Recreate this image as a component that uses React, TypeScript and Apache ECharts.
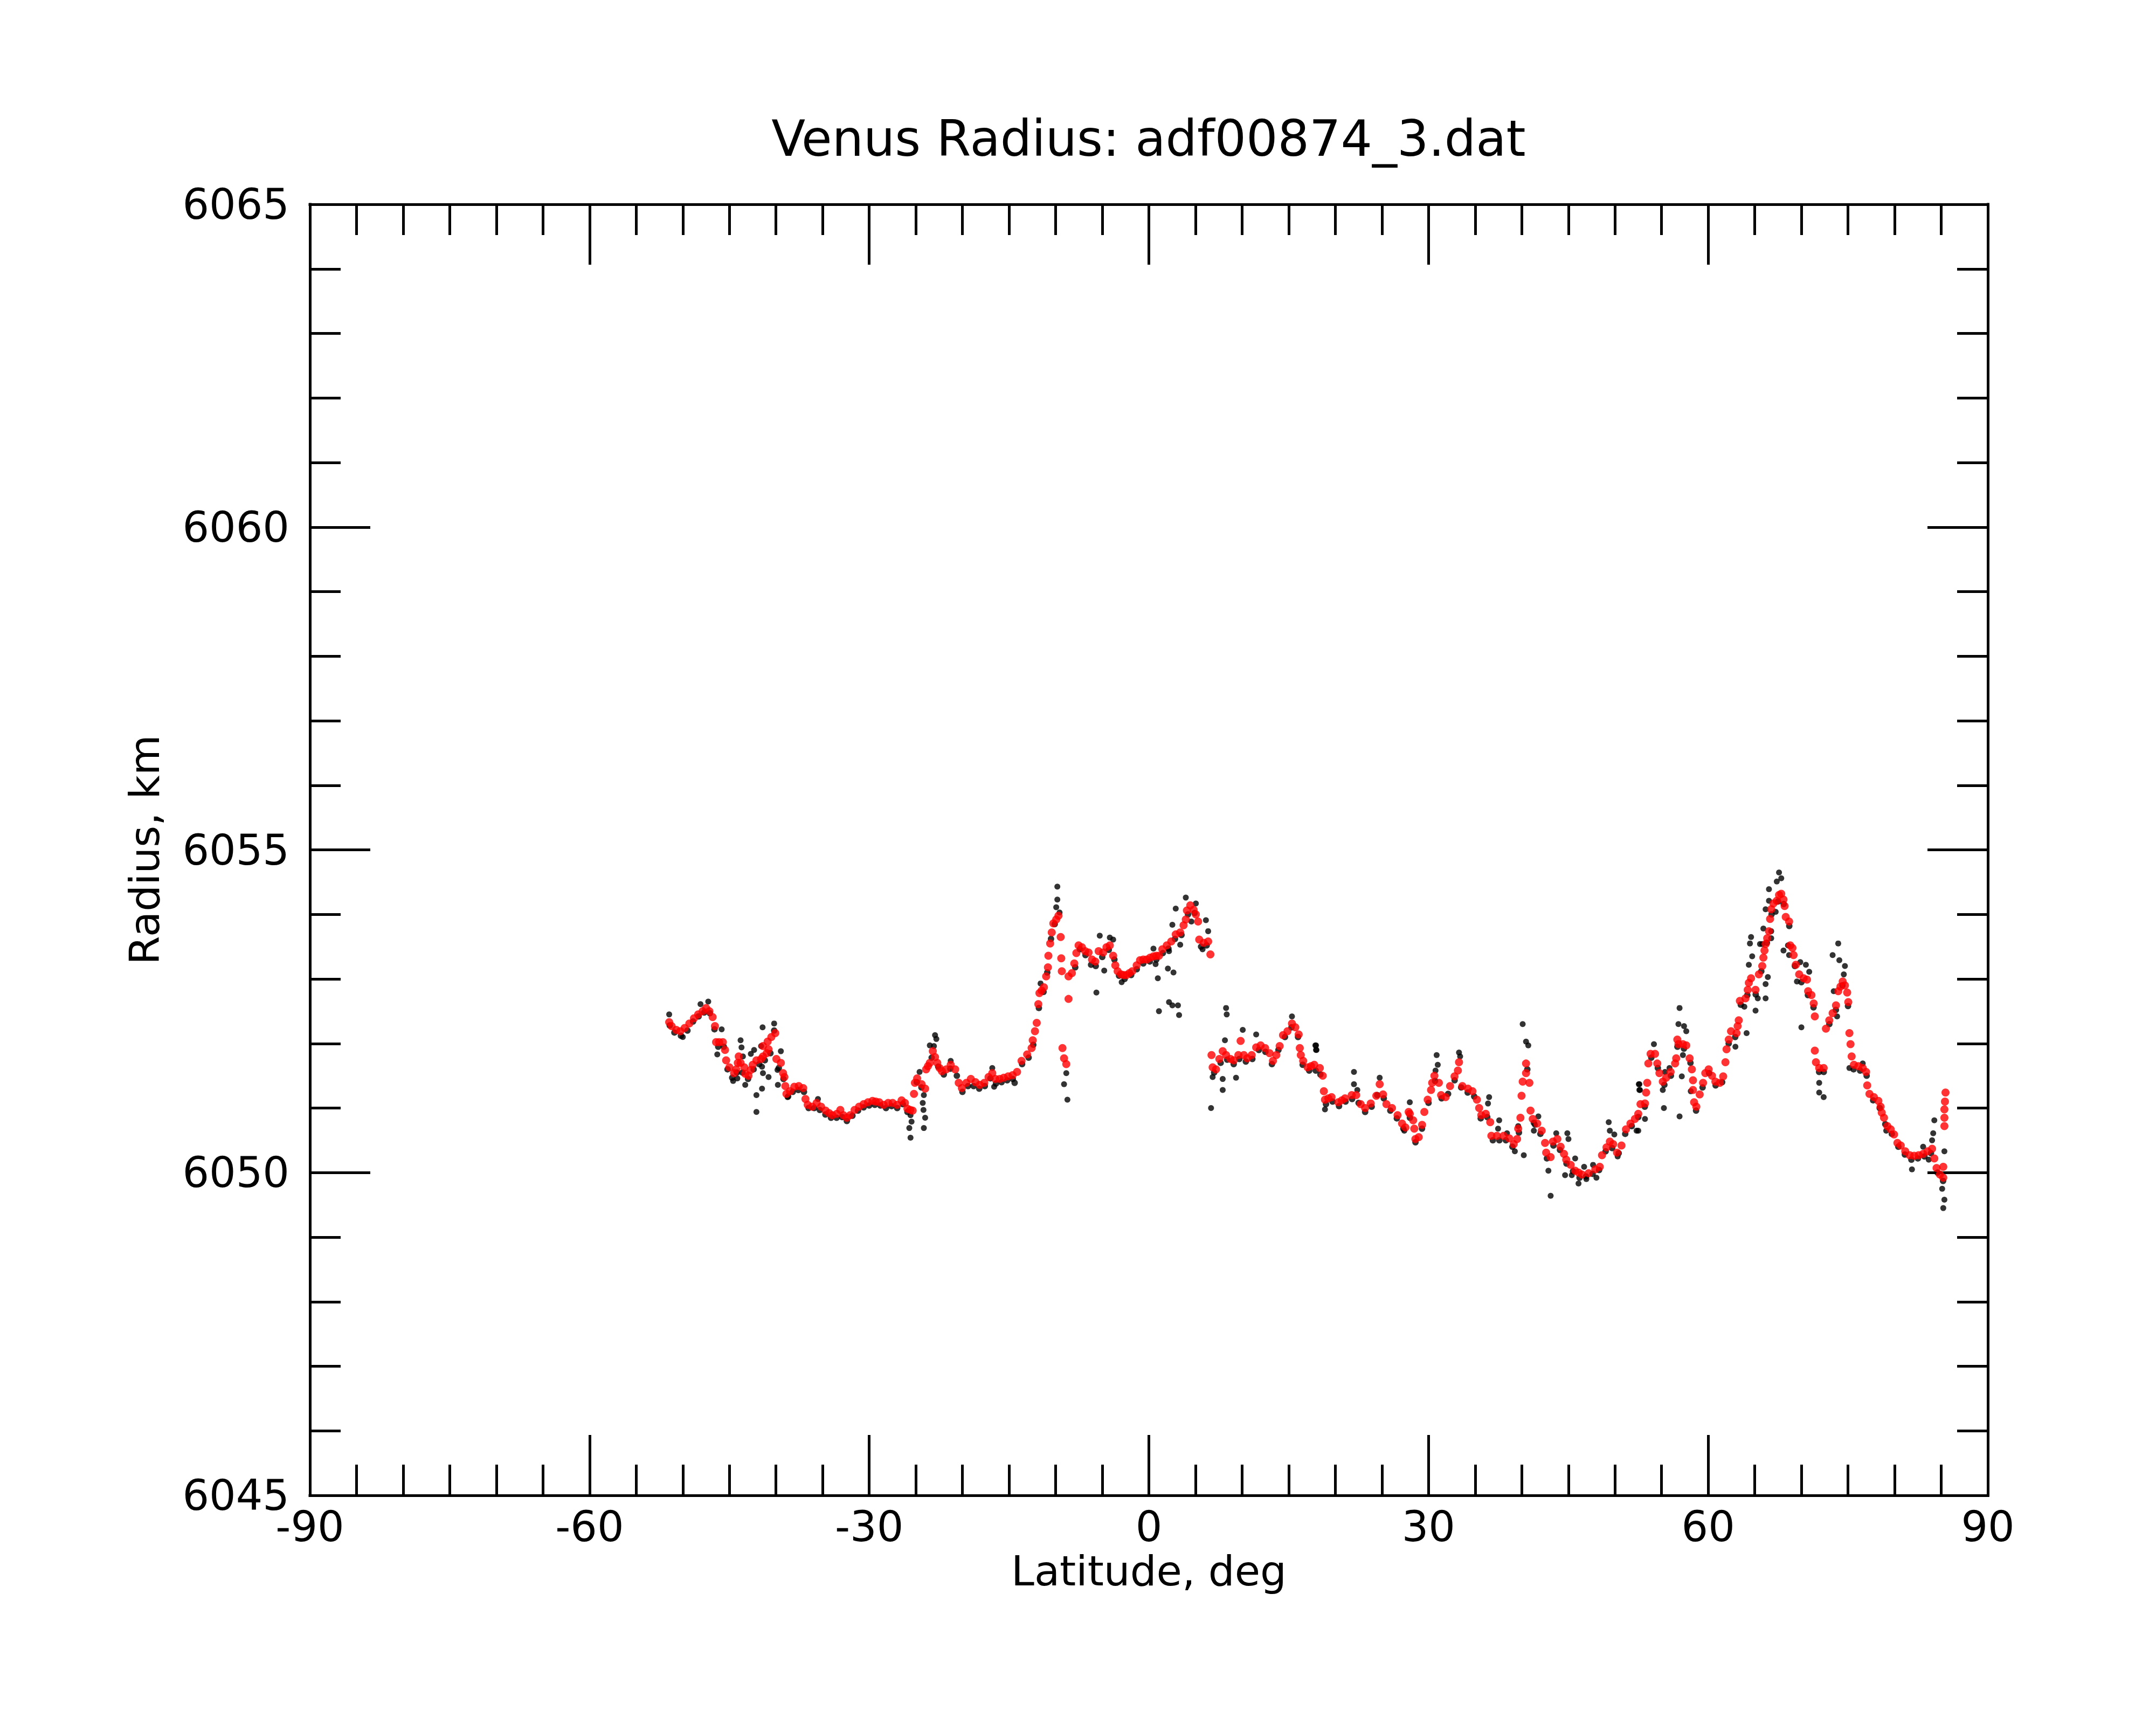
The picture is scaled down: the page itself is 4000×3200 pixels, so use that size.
import React, { useEffect, useRef } from "react";
import * as echarts from "echarts";

const TITLE = "Venus Radius: adf00874_3.dat";
const X_NAME = "Latitude, deg";
const Y_NAME = "Radius, km";
const X_MIN = -90;
const X_MAX = 90;
const X_STEP = 30;
const Y_MIN = 6045;
const Y_MAX = 6065;
const Y_STEP = 5;

// smoothed profile (red) [latitude, radius]
const smoothed: number[][] = [
  [-51.46, 6052.33], [-51.2, 6052.27], [-50.7, 6052.21], [-50.26, 6052.19], [-49.8, 6052.24], [-49.3, 6052.31],
  [-48.8, 6052.39], [-48.35, 6052.45], [-47.87, 6052.5], [-47.5, 6052.55], [-47.15, 6052.5], [-46.8, 6052.41],
  [-46.55, 6052.27], [-46.43, 6052.02], [-46.1, 6052.02], [-45.7, 6052.02], [-45.47, 6051.9], [-45.35, 6051.74],
  [-45.0, 6051.63], [-44.5, 6051.54], [-44.27, 6051.6], [-44.0, 6051.8], [-44.1, 6051.7], [-43.8, 6051.7],
  [-43.4, 6051.63], [-43.3, 6051.53], [-42.95, 6051.5], [-42.7, 6051.59], [-42.5, 6051.67], [-42.1, 6051.74],
  [-41.6, 6051.76], [-41.4, 6051.8], [-41.0, 6051.85], [-40.8, 6051.91], [-41.4, 6051.96], [-40.9, 6052.03],
  [-40.5, 6052.1], [-40.08, 6052.16], [-39.96, 6051.76], [-39.48, 6051.7], [-39.24, 6051.54], [-39.1, 6051.48],
  [-39.0, 6051.34], [-38.88, 6051.22], [-38.5, 6051.26], [-38.04, 6051.33], [-37.56, 6051.34], [-37.08, 6051.31],
  [-36.84, 6051.14], [-36.6, 6051.05], [-36.12, 6051.02], [-35.64, 6051.08], [-35.16, 6051.02], [-34.68, 6050.96],
  [-34.3, 6050.92], [-33.96, 6050.89], [-33.48, 6050.91], [-33.1, 6050.97], [-32.77, 6050.89], [-32.4, 6050.85],
  [-32.05, 6050.89], [-31.57, 6050.97], [-31.09, 6051.02], [-30.6, 6051.06], [-30.13, 6051.09], [-29.65, 6051.11],
  [-29.3, 6051.1], [-28.93, 6051.09], [-28.45, 6051.05], [-27.97, 6051.08], [-27.49, 6051.08], [-27.0, 6051.05],
  [-26.53, 6051.12], [-26.17, 6051.08], [-25.9, 6050.99], [-25.6, 6050.97], [-25.34, 6050.96], [-25.2, 6051.22],
  [-25.1, 6051.39], [-24.86, 6051.46], [-24.38, 6051.37], [-24.0, 6051.3], [-23.9, 6051.6], [-23.7, 6051.65],
  [-23.5, 6051.7], [-23.18, 6051.88], [-22.94, 6051.79], [-22.7, 6051.7], [-22.45, 6051.62], [-22.2, 6051.57],
  [-21.74, 6051.6], [-21.26, 6051.67], [-20.78, 6051.6], [-20.4, 6051.39], [-20.06, 6051.31], [-19.58, 6051.39],
  [-19.1, 6051.45], [-18.6, 6051.4], [-18.14, 6051.36], [-17.66, 6051.39], [-17.2, 6051.48], [-16.8, 6051.54],
  [-16.47, 6051.45], [-16.0, 6051.45], [-15.57, 6051.47], [-15.1, 6051.49], [-14.62, 6051.51], [-14.14, 6051.56],
  [-13.66, 6051.73], [-13.06, 6051.83], [-12.58, 6051.93], [-12.46, 6052.05], [-12.22, 6052.19], [-12.03, 6052.32],
  [-11.86, 6052.61], [-11.74, 6052.78], [-11.5, 6052.82], [-11.26, 6052.87], [-11.02, 6053.04], [-10.83, 6053.18],
  [-10.78, 6053.36], [-10.59, 6053.55], [-10.42, 6053.72], [-10.25, 6053.86], [-9.94, 6053.92], [-9.7, 6053.98],
  [-9.46, 6053.65], [-9.4, 6053.32], [-9.34, 6053.12], [-9.27, 6051.93], [-9.1, 6051.77], [-8.86, 6051.68],
  [-8.62, 6052.69], [-8.62, 6053.04], [-8.26, 6053.09], [-8.0, 6053.24], [-7.78, 6053.4], [-7.54, 6053.52],
  [-7.18, 6053.49], [-6.83, 6053.43], [-6.47, 6053.41], [-6.1, 6053.3], [-5.75, 6053.27], [-5.39, 6053.43],
  [-4.9, 6053.41], [-4.55, 6053.49], [-4.19, 6053.52], [-3.83, 6053.36], [-3.6, 6053.21], [-3.35, 6053.12],
  [-3.0, 6053.07], [-2.7, 6053.06], [-2.4, 6053.06], [-2.1, 6053.09], [-1.79, 6053.12], [-1.31, 6053.21],
  [-0.95, 6053.29], [-0.6, 6053.3], [-0.23, 6053.3], [0.13, 6053.33], [0.49, 6053.35], [0.8, 6053.36],
  [1.08, 6053.36], [1.44, 6053.46], [1.92, 6053.52], [2.4, 6053.58], [2.88, 6053.69], [3.36, 6053.72],
  [3.72, 6053.83], [3.96, 6053.92], [4.08, 6054.06], [4.44, 6054.14], [4.8, 6054.07], [5.04, 6054.0],
  [5.28, 6053.89], [5.4, 6053.61], [5.88, 6053.56], [6.36, 6053.58], [6.6, 6053.38], [6.72, 6051.82],
  [6.84, 6051.63], [7.2, 6051.6], [7.56, 6051.76], [7.92, 6051.88], [8.28, 6051.82], [8.76, 6051.76],
  [9.1, 6051.74], [9.6, 6051.82], [9.84, 6052.04], [10.19, 6051.82], [10.55, 6051.77], [11.03, 6051.82],
  [11.51, 6051.94], [11.99, 6051.97], [12.47, 6051.93], [12.95, 6051.85], [13.31, 6051.73], [13.67, 6051.82],
  [14.03, 6051.96], [14.39, 6052.13], [14.87, 6052.19], [15.35, 6052.31], [15.71, 6052.25], [16.07, 6052.14],
  [16.19, 6051.93], [16.3, 6051.82], [16.55, 6051.73], [17.03, 6051.63], [17.4, 6051.65], [17.74, 6051.67],
  [18.34, 6051.62], [18.65, 6051.5], [18.77, 6051.26], [18.89, 6051.13], [19.25, 6051.15], [19.6, 6051.17],
  [20.32, 6051.09], [20.7, 6051.12], [21.04, 6051.15], [21.76, 6051.2], [22.24, 6051.2], [22.72, 6051.06],
  [23.2, 6051.0], [23.8, 6051.07], [24.4, 6051.19], [24.76, 6051.37], [25.12, 6051.21], [25.48, 6051.06],
  [26.08, 6051.0], [26.68, 6050.89], [27.16, 6050.76], [27.52, 6050.7], [27.87, 6050.94], [27.99, 6050.91],
  [28.35, 6050.81], [28.47, 6050.68], [28.59, 6050.52], [28.95, 6050.55], [29.31, 6050.74], [29.55, 6050.94],
  [29.91, 6051.13], [30.27, 6051.28], [30.39, 6051.39], [30.63, 6051.5], [31.11, 6051.39], [31.35, 6051.2],
  [31.83, 6051.17], [32.31, 6051.34], [32.79, 6051.49], [33.15, 6051.58], [33.27, 6051.71], [33.63, 6051.34],
  [34.23, 6051.3], [34.71, 6051.26], [35.19, 6051.13], [35.43, 6051.0], [35.66, 6050.89], [36.14, 6050.91],
  [36.62, 6050.78], [36.74, 6050.57], [37.34, 6050.57], [38.06, 6050.57], [38.66, 6050.53], [39.14, 6050.44],
  [39.5, 6050.52], [39.62, 6050.68], [39.86, 6050.85], [39.98, 6051.19], [40.1, 6051.41], [40.46, 6051.54],
  [40.46, 6051.69], [40.82, 6051.39], [40.94, 6050.96], [41.18, 6050.83], [41.66, 6050.76], [42.14, 6050.65],
  [42.5, 6050.46], [42.62, 6050.31], [43.1, 6050.24], [43.34, 6050.48], [43.82, 6050.52], [44.17, 6050.4],
  [44.53, 6050.29], [44.77, 6050.2], [45.25, 6050.12], [45.73, 6050.03], [46.1, 6050.0], [46.45, 6049.97],
  [47.17, 6049.99], [47.89, 6050.05], [48.37, 6050.09], [48.61, 6050.27], [49.09, 6050.39], [49.45, 6050.48],
  [49.81, 6050.44], [50.22, 6050.31], [50.7, 6050.42], [51.18, 6050.67], [51.66, 6050.76], [52.14, 6050.83],
  [52.5, 6050.91], [52.74, 6051.06], [53.22, 6051.07], [53.34, 6051.24], [53.46, 6051.39], [53.58, 6051.69],
  [53.82, 6051.84], [54.3, 6051.84], [54.54, 6051.69], [54.77, 6051.54], [55.13, 6051.41], [55.49, 6051.47],
  [55.97, 6051.56], [56.45, 6051.69], [56.57, 6051.77], [56.69, 6052.06], [56.81, 6051.99], [57.29, 6051.99],
  [57.65, 6051.97], [58.01, 6051.77], [58.25, 6051.6], [58.37, 6051.43], [58.37, 6051.28], [58.49, 6051.09],
  [58.73, 6051.02], [59.09, 6051.21], [59.45, 6051.39], [59.69, 6051.54], [60.05, 6051.6], [60.41, 6051.5],
  [60.77, 6051.41], [61.25, 6051.39], [61.61, 6051.49], [61.85, 6051.71], [61.97, 6051.91], [62.21, 6052.06],
  [62.45, 6052.19], [63.04, 6052.16], [63.16, 6052.27], [63.28, 6052.36], [63.4, 6052.66], [64.0, 6052.7],
  [64.24, 6052.83], [64.36, 6052.94], [64.6, 6053.01], [65.08, 6052.83], [65.44, 6053.07], [65.8, 6053.2],
  [65.92, 6053.33], [66.04, 6053.44], [66.16, 6053.54], [66.33, 6053.63], [66.52, 6053.74], [66.64, 6053.93],
  [66.76, 6054.08], [67.0, 6054.17], [67.36, 6054.21], [67.6, 6054.3], [67.84, 6054.32], [68.08, 6054.23],
  [68.2, 6054.13], [68.32, 6053.96], [68.68, 6053.89], [68.8, 6053.52], [69.04, 6053.48], [69.16, 6053.37],
  [69.4, 6053.22], [69.76, 6053.07], [70.24, 6053.01], [70.6, 6052.99], [70.72, 6052.81], [71.08, 6052.75],
  [71.32, 6052.62], [71.44, 6052.42], [71.44, 6051.89], [71.56, 6051.71], [71.91, 6051.62], [72.39, 6051.62],
  [72.63, 6052.23], [72.99, 6052.36], [73.35, 6052.47], [73.71, 6052.59], [73.95, 6052.81], [74.19, 6052.88],
  [74.43, 6052.96], [74.67, 6052.9], [74.91, 6052.79], [75.03, 6052.64], [75.15, 6052.16], [75.27, 6051.99],
  [75.39, 6051.8], [75.63, 6051.67], [76.11, 6051.65], [76.58, 6051.62], [76.94, 6051.56], [77.06, 6051.35],
  [77.3, 6051.22], [77.78, 6051.17], [78.26, 6051.11], [78.5, 6051.02], [78.62, 6050.93], [78.86, 6050.85],
  [79.22, 6050.72], [79.58, 6050.67], [79.94, 6050.59], [80.3, 6050.46], [80.66, 6050.42], [81.14, 6050.33],
  [81.62, 6050.27], [82.1, 6050.26], [82.58, 6050.27], [83.06, 6050.29], [83.54, 6050.33], [84.02, 6050.37],
  [84.26, 6050.22], [84.5, 6050.07], [84.86, 6049.97], [85.22, 6049.92], [85.22, 6050.09], [85.34, 6050.72],
  [85.34, 6050.85], [85.34, 6050.98], [85.4, 6051.1], [85.46, 6051.24],
];

// raw measurements (black) along the profile [latitude, radius]
const rawTrack: number[][] = [
  [-51.4, 6052.28], [-50.9, 6052.17], [-50.2, 6052.12], [-49.5, 6052.2], [-48.9, 6052.34], [-48.3, 6052.42],
  [-47.7, 6052.48], [-47.1, 6052.47], [-46.6, 6052.22], [-46.2, 6051.95], [-45.6, 6051.95], [-45.2, 6051.6],
  [-44.7, 6051.47], [-44.2, 6051.55], [-43.6, 6051.55], [-43.0, 6051.45], [-42.4, 6051.6], [-41.8, 6051.68],
  [-41.2, 6051.74], [-40.6, 6051.85], [-40.2, 6052.2], [-39.7, 6051.62], [-39.2, 6051.45], [-38.7, 6051.18],
  [-38.2, 6051.25], [-37.6, 6051.28], [-37.0, 6051.25], [-36.5, 6051.0], [-35.9, 6051.0], [-35.3, 6050.97],
  [-34.7, 6050.9], [-34.1, 6050.85], [-33.5, 6050.85], [-32.9, 6050.86], [-32.4, 6050.8], [-31.8, 6050.88],
  [-31.2, 6050.96], [-30.6, 6051.01], [-30.0, 6051.04], [-29.4, 6051.05], [-28.8, 6051.04], [-28.2, 6051.0],
  [-27.6, 6051.03], [-27.0, 6051.0], [-26.4, 6051.06], [-25.9, 6050.94], [-24.9, 6051.4], [-24.4, 6051.32],
  [-23.3, 6051.78], [-22.6, 6051.64], [-22.0, 6051.52], [-21.3, 6051.61], [-20.6, 6051.5], [-20.0, 6051.25],
  [-19.4, 6051.34], [-18.8, 6051.34], [-18.2, 6051.3], [-17.6, 6051.34], [-17.0, 6051.46], [-16.4, 6051.38],
  [-15.8, 6051.4], [-15.2, 6051.43], [-14.6, 6051.45], [-14.4, 6051.39], [-13.6, 6051.68], [-12.9, 6051.78],
  [-12.4, 6051.98], [-11.8, 6052.55], [-11.3, 6052.8], [-10.9, 6053.1], [-10.5, 6053.62], [-10.1, 6053.85],
  [-7.9, 6053.18], [-7.4, 6053.46], [-6.8, 6053.37], [-6.2, 6053.22], [-5.7, 6053.2], [-5.0, 6053.34],
  [-4.3, 6053.45], [-3.7, 6053.3], [-3.2, 6053.05], [-2.6, 6053.0], [-1.9, 6053.06], [-1.3, 6053.15],
  [-0.6, 6053.24], [0.1, 6053.27], [0.8, 6053.3], [1.5, 6053.4], [2.1, 6053.47], [2.8, 6053.62],
  [3.5, 6053.68], [4.2, 6054.0], [4.9, 6054.02], [5.6, 6053.5], [6.2, 6053.52], [7.0, 6051.55],
  [7.7, 6051.7], [8.4, 6051.75], [9.1, 6051.68], [9.7, 6051.76], [10.4, 6051.72], [11.1, 6051.76],
  [11.8, 6051.9], [12.5, 6051.87], [13.2, 6051.68], [13.9, 6051.9], [14.6, 6052.1], [15.3, 6052.25],
  [16.0, 6052.1], [16.5, 6051.67], [17.2, 6051.58], [17.9, 6051.58], [18.4, 6051.52], [19.0, 6051.06],
  [19.7, 6051.1], [20.4, 6051.03], [21.1, 6051.1], [21.8, 6051.14], [22.5, 6051.08], [23.2, 6050.94],
  [23.9, 6051.02], [24.5, 6051.2], [25.2, 6051.15], [25.9, 6050.96], [26.6, 6050.84], [27.3, 6050.68],
  [28.0, 6050.85], [28.6, 6050.47], [29.3, 6050.68], [30.0, 6051.08], [30.7, 6051.42], [31.4, 6051.15],
  [32.1, 6051.22], [32.8, 6051.43], [33.5, 6051.32], [34.2, 6051.24], [34.9, 6051.18], [35.6, 6050.84],
  [36.3, 6050.86], [36.9, 6050.5], [37.6, 6050.5], [38.3, 6050.5], [39.0, 6050.4], [39.7, 6050.62],
  [40.6, 6051.6], [41.3, 6050.77], [42.0, 6050.6], [42.7, 6050.22], [43.4, 6050.42], [44.1, 6050.35],
  [44.8, 6050.14], [45.5, 6050.02], [46.2, 6049.92], [46.9, 6049.94], [47.6, 6049.98], [48.3, 6050.04],
  [49.0, 6050.33], [49.7, 6050.38], [50.4, 6050.3], [51.1, 6050.6], [51.8, 6050.72], [52.5, 6050.86],
  [53.2, 6051.02], [53.9, 6051.78], [54.6, 6051.62], [55.3, 6051.36], [56.0, 6051.5], [56.7, 6051.95],
  [57.4, 6051.92], [58.1, 6051.7], [58.7, 6050.96], [59.4, 6051.32], [60.1, 6051.54], [60.8, 6051.35],
  [61.5, 6051.4], [62.2, 6052.0], [62.9, 6052.1], [63.5, 6052.6], [64.2, 6052.75], [65.1, 6052.76],
  [65.7, 6053.12], [66.3, 6053.56], [66.8, 6054.0], [67.5, 6054.2], [68.1, 6054.16], [68.7, 6053.82],
  [69.3, 6053.2], [70.0, 6052.95], [70.7, 6052.75], [71.3, 6052.56], [71.9, 6051.56], [72.4, 6051.56],
  [73.0, 6052.3], [73.7, 6052.52], [74.4, 6052.9], [75.0, 6052.58], [75.6, 6051.6], [76.3, 6051.58],
  [77.0, 6051.5], [77.7, 6051.12], [78.4, 6051.0], [79.0, 6050.75], [79.7, 6050.6], [80.4, 6050.4],
  [81.1, 6050.28], [81.8, 6050.2], [82.5, 6050.22], [83.2, 6050.25], [83.9, 6050.3], [84.6, 6050.0],
  [85.2, 6049.87],
];

// raw measurements (black) scattered away from the profile [latitude, radius]
const rawOutliers: number[][] = [
  [-51.46, 6052.45], [-50.0, 6052.1], [-48.1, 6052.61], [-47.27, 6052.65], [-45.83, 6052.22], [-46.3, 6051.83],
  [-44.6, 6051.42], [-44.15, 6051.46], [-43.8, 6052.05], [-43.7, 6051.94], [-43.55, 6051.8], [-43.3, 6051.36],
  [-42.7, 6051.84], [-42.35, 6051.9], [-42.1, 6051.2], [-42.1, 6050.94], [-41.6, 6051.96], [-41.5, 6051.64],
  [-41.4, 6051.54], [-41.5, 6051.3], [-40.8, 6051.48], [-41.44, 6052.25], [-40.2, 6052.31], [-39.48, 6051.88],
  [-39.84, 6051.59], [-39.8, 6051.36], [-38.76, 6051.17], [-35.5, 6051.14], [-25.57, 6050.89], [-25.46, 6050.79],
  [-25.7, 6050.69], [-25.57, 6050.54], [-24.14, 6051.2], [-24.26, 6051.08], [-24.18, 6050.97], [-24.0, 6050.85],
  [-24.14, 6050.69], [-24.6, 6051.56], [-23.5, 6051.97], [-22.94, 6052.13], [-22.8, 6052.07], [-23.06, 6051.96],
  [-21.26, 6051.73], [-16.8, 6051.62], [-16.6, 6051.33],
  [-9.82, 6054.43], [-9.82, 6054.23], [-9.94, 6054.11], [-9.58, 6054.03], [-11.62, 6052.93], [-8.86, 6051.54],
  [-9.1, 6051.37], [-8.74, 6051.13], [-5.27, 6053.67], [-4.19, 6053.64], [-3.83, 6053.61], [-4.79, 6053.13],
  [-5.63, 6052.79], [-2.92, 6052.95], [0.72, 6053.23], [0.96, 6053.01], [0.49, 6053.47], [1.08, 6052.5],
  [2.04, 6053.16], [2.64, 6053.1], [2.16, 6052.64], [2.52, 6052.59], [3.12, 6052.59], [3.24, 6052.44],
  [2.16, 6053.43], [2.52, 6053.84], [2.88, 6054.09], [3.96, 6054.26], [5.04, 6054.17], [4.56, 6053.89],
  [3.36, 6053.53], [6.12, 6053.91], [6.36, 6053.74], [5.76, 6053.46], [8.28, 6052.55], [8.35, 6052.45],
  [6.67, 6051.0], [6.84, 6051.48], [7.92, 6051.45], [7.92, 6051.28], [8.16, 6052.05], [9.35, 6051.47],
  [10.07, 6052.21], [11.51, 6052.14], [17.86, 6051.97], [17.98, 6051.9], [15.35, 6052.42],
  [17.93, 6051.97], [17.93, 6051.9], [22.0, 6051.56], [22.0, 6051.37], [22.36, 6051.28], [18.89, 6050.98],
  [24.76, 6051.47], [27.99, 6051.09], [27.4, 6050.65], [30.87, 6051.82], [30.99, 6051.67], [30.75, 6051.58],
  [33.27, 6051.86], [33.39, 6051.8], [36.5, 6051.17], [36.38, 6051.07], [37.58, 6050.81], [37.46, 6050.68],
  [38.42, 6050.61], [39.26, 6050.33], [40.22, 6050.27], [40.1, 6052.3], [40.46, 6052.03], [40.7, 6051.97],
  [39.62, 6050.72], [41.3, 6050.65], [41.78, 6050.87], [41.42, 6050.74], [42.86, 6050.03], [43.1, 6049.64],
  [43.7, 6050.61], [44.89, 6050.61], [45.01, 6050.52], [44.65, 6049.96], [45.37, 6049.96], [45.73, 6050.22],
  [46.09, 6049.83], [46.69, 6050.09], [46.93, 6049.9], [47.65, 6050.12], [48.01, 6049.92], [49.33, 6050.78],
  [49.45, 6050.65], [49.93, 6050.59], [50.29, 6050.25], [52.32, 6050.65], [52.56, 6051.37], [52.68, 6051.28],
  [67.6, 6054.65], [67.84, 6054.56], [67.36, 6054.51], [66.52, 6054.39], [66.52, 6054.21], [66.16, 6054.08],
  [67.24, 6054.04], [66.76, 6053.74], [65.92, 6053.78], [66.76, 6053.63], [64.6, 6053.65], [64.48, 6053.55],
  [64.72, 6053.35], [64.36, 6053.22], [65.56, 6053.54], [65.8, 6053.54], [66.4, 6053.03], [66.16, 6052.92],
  [66.16, 6052.7], [65.32, 6052.7], [65.08, 6052.51], [63.88, 6052.57], [64.12, 6052.16], [62.92, 6051.95],
  [56.93, 6052.55], [56.81, 6052.3], [57.41, 6052.27], [57.65, 6052.19], [57.29, 6051.82], [57.17, 6051.49],
  [56.93, 6050.87], [55.25, 6051.0], [55.13, 6051.28], [55.37, 6051.56], [55.85, 6051.62], [52.62, 6051.37],
  [52.62, 6051.28], [53.22, 6050.83], [52.5, 6050.65], [54.18, 6051.99], [58.13, 6051.26], [68.08, 6053.44],
  [68.68, 6053.37], [68.56, 6053.52], [69.52, 6052.96], [70.0, 6052.25], [69.88, 6053.26], [70.48, 6053.22],
  [70.84, 6053.11], [71.91, 6051.39], [71.91, 6051.24], [72.39, 6051.17], [73.95, 6053.55], [73.35, 6053.37],
  [74.07, 6053.29], [74.67, 6053.2], [74.55, 6053.07], [73.47, 6052.81], [73.83, 6052.42], [75.15, 6051.62],
  [76.58, 6051.69], [79.1, 6050.65], [81.86, 6050.05], [83.06, 6050.4], [83.66, 6050.2], [84.26, 6050.81],
  [84.14, 6050.61], [84.02, 6050.5], [85.34, 6050.33], [85.1, 6049.75], [85.34, 6049.58], [85.22, 6049.45],
];

const FONT = "DejaVu Sans";
const INK = "#000000";

function makeAxis(kind: "x" | "y", position: string, withLabels: boolean) {
  const isX = kind === "x";
  return {
    type: "value",
    position,
    min: isX ? X_MIN : Y_MIN,
    max: isX ? X_MAX : Y_MAX,
    interval: isX ? X_STEP : Y_STEP,
    axisLine: { show: true, onZero: false, lineStyle: { color: INK, width: 5, cap: "square" } },
    axisTick: { show: true, inside: true, length: 112, lineStyle: { color: INK, width: 5 } },
    minorTick: { show: true, splitNumber: isX ? 6 : 5, length: 57, lineStyle: { color: INK, width: 5 } },
    splitLine: { show: false },
    minorSplitLine: { show: false },
    axisLabel: {
      show: withLabels,
      color: INK,
      fontSize: 78,
      fontFamily: FONT,
      margin: isX ? 19 : 38,
      showMinLabel: true,
      showMaxLabel: true,
      formatter: (v: number) => String(v),
    },
    name: withLabels ? (isX ? X_NAME : Y_NAME) : "",
    nameLocation: "middle",
    nameGap: isX ? 94 : 268,
    nameTextStyle: { color: INK, fontSize: 77, fontFamily: FONT },
  };
}

export default function App() {
  const ref = useRef<HTMLDivElement>(null);
  useEffect(() => {
    document.body.style.margin = "0";
    if (!ref.current) return;
    const chart = echarts.init(ref.current, null, { renderer: "svg" });
    chart.setOption({
      animation: false,
      backgroundColor: "#ffffff",
      textStyle: { fontFamily: FONT },
      graphic: [
        {
          type: "text",
          x: 2131,
          y: 257,
          silent: true,
          style: {
            text: TITLE,
            fill: INK,
            fontSize: 92,
            fontFamily: FONT,
            align: "center",
            textAlign: "center",
            verticalAlign: "middle",
            textVerticalAlign: "middle",
          },
        },
      ],
      grid: { left: 575, top: 379, width: 3113, height: 2395, containLabel: false },
      xAxis: [makeAxis("x", "bottom", true), makeAxis("x", "top", false)],
      yAxis: [makeAxis("y", "left", true), makeAxis("y", "right", false)],
      series: [
        {
          type: "scatter",
          xAxisIndex: 0,
          yAxisIndex: 0,
          data: rawTrack,
          symbol: "circle",
          symbolSize: 12,
          itemStyle: { color: INK },
          silent: true,
        },
        {
          type: "scatter",
          xAxisIndex: 0,
          yAxisIndex: 0,
          data: rawOutliers,
          symbol: "circle",
          symbolSize: 11,
          itemStyle: { color: INK },
          silent: true,
        },
        {
          type: "scatter",
          xAxisIndex: 0,
          yAxisIndex: 0,
          data: smoothed,
          symbol: "circle",
          symbolSize: 15,
          itemStyle: { color: "#ff0000" },
          silent: true,
        },
      ],
    });
    return () => chart.dispose();
  }, []);
  return <div ref={ref} style={{ width: 4000, height: 3200 }} />;
}
